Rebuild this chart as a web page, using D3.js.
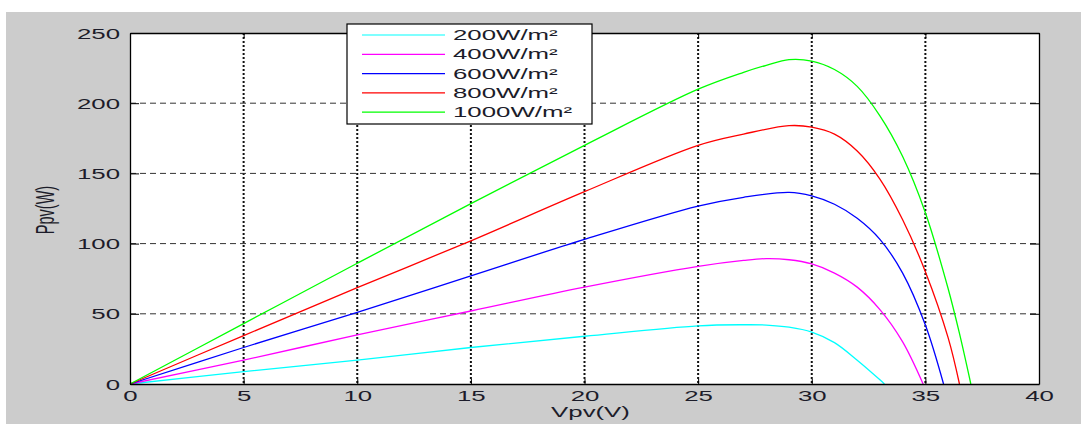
<!DOCTYPE html>
<html><head><meta charset="utf-8">
<script src="https://cdn.jsdelivr.net/npm/d3@7"></script>
<style>body{margin:0;background:#fff}svg{display:block}text{font-family:"Liberation Sans",Arial,sans-serif;fill:#1c1c2a}</style>
</head><body><svg id="c" width="1081" height="424"></svg>
<script>
// ---- data ----
const seriesNames = ["200W/m²","400W/m²","600W/m²","800W/m²","1000W/m²"];
const seriesColors = ["#00ffff","#ff00ff","#0000ff","#ff0000","#00ff00"];
const v200  = [0,5,10,15,20,25,27,28,29,30,31,32,33,33.2];
const p200  = [0,8.8,17,26,34,41.4,42.2,42,40.5,37,29.5,17,3,0];
const v400  = [0,5,10,15,20,25,27,28,29,30,31,32,33,34,34.9];
const p400  = [0,17,35,52,69,83.8,88,89.3,88.5,85.5,79,69,53,30,0];
const v600  = [0,5,10,15,20,25,27,29,30,31,32,33,34,35,35.8];
const p600  = [0,26,51,77,103,126.7,133,136.5,134,128,118,103,79,42,0];
const v800  = [0,5,10,15,20,25,27,29,30,31,32,33,34,35,36,36.5];
const p800  = [0,34.5,68.6,102,137,170,178,184,183,178,166,146,117,80,33,0];
const v1000 = [0,5,10,15,20,25,27,28,29,30,31,32,33,34,35,36,36.5,37];
const p1000 = [0,43,86,128.5,170,210,222,227,231,230,224,212,191,162,122,68,36,0];
const xTicks = [0,5,10,15,20,25,30,35,40];
const yTicks = [0,50,100,150,200,250];
const xLabel = "Vpv(V)", yLabel = "Ppv(W)";

const series = [[v200,p200],[v400,p400],[v600,p600],[v800,p800],[v1000,p1000]];
const SX = 1.78; // horizontal stretch of the original picture's text

const svg = d3.select("#c");
svg.append("rect").attr("x",6).attr("y",12).attr("width",1075).attr("height",412).attr("fill","#cccccc");

const L=130,R=1039,T=33,B=384;
const x = d3.scaleLinear().domain([0,40]).range([L,R]);
const y = d3.scaleLinear().domain([0,250]).range([B,T]);

svg.append("rect").attr("x",L).attr("y",T).attr("width",R-L).attr("height",B-T).attr("fill","#fff");

// grid
const g = svg.append("g");
g.selectAll("line.vx").data(xTicks.slice(1,-1)).join("line")
  .attr("x1",d=>x(d)).attr("x2",d=>x(d)).attr("y1",T).attr("y2",B)
  .attr("stroke","#111").attr("stroke-width",2).attr("stroke-dasharray","2,2");
g.selectAll("line.hy").data(yTicks.slice(1,-1)).join("line")
  .attr("x1",L).attr("x2",R).attr("y1",d=>y(d)).attr("y2",d=>y(d))
  .attr("stroke","#333").attr("stroke-width",1).attr("stroke-dasharray","6,4");

// curves
const line = d3.line().x(d=>x(d[0])).y(d=>y(d[1])).curve(d3.curveCatmullRom.alpha(0.5));
series.forEach((s,i)=>{
  const pts = s[0].map((v,j)=>[v,s[1][j]]);
  svg.append("path").attr("d",line(pts)).attr("fill","none")
    .attr("stroke",seriesColors[i]).attr("stroke-width",1.3);
});

// axes
function styleAxis(sel){ sel.select(".domain").attr("stroke","#000").attr("stroke-width",1.3);
  sel.selectAll(".tick line").attr("stroke","#000"); }
const ax = svg.append("g").attr("transform",`translate(0,${B})`)
  .call(d3.axisBottom(x).tickValues(xTicks).tickSizeInner(-5).tickSizeOuter(0).tickPadding(0));
styleAxis(ax);
ax.selectAll(".tick text").attr("x",0).attr("y",0).attr("dy",null)
  .attr("transform",`translate(0,17) scale(${SX},1)`).attr("font-size",14.5).attr("text-anchor","middle");
const axT = svg.append("g").attr("transform",`translate(0,${T})`)
  .call(d3.axisTop(x).tickValues(xTicks).tickSizeInner(-5).tickSizeOuter(0).tickFormat(""));
styleAxis(axT);
const ay = svg.append("g").attr("transform",`translate(${L},0)`)
  .call(d3.axisLeft(y).tickValues(yTicks).tickSizeInner(-9).tickSizeOuter(0));
styleAxis(ay);
ay.selectAll(".tick text").attr("x",0).attr("dy",null).attr("y",0)
  .attr("transform",`translate(-10,5) scale(${SX},1)`).attr("font-size",14.5).attr("text-anchor","end");
const ayR = svg.append("g").attr("transform",`translate(${R},0)`)
  .call(d3.axisRight(y).tickValues(yTicks).tickSizeInner(-9).tickSizeOuter(0).tickFormat(""));
styleAxis(ayR);

// labels
svg.append("text").attr("transform",`translate(${(L+R)/2+6},417) scale(${SX},1)`)
  .attr("text-anchor","middle").attr("font-size",14.5).text(xLabel);
svg.append("text").attr("transform",`translate(54,210) scale(${SX},1) rotate(-90)`)
  .attr("text-anchor","middle").attr("font-size",14.5).text(yLabel);

// legend
const lg = svg.append("g");
lg.append("rect").attr("x",347).attr("y",24).attr("width",245).attr("height",100)
  .attr("fill","#fff").attr("stroke","#000").attr("stroke-width",1.2);
seriesNames.forEach((n,i)=>{
  const yy = 35 + i*19.3;
  lg.append("line").attr("x1",362).attr("x2",445).attr("y1",yy).attr("y2",yy)
    .attr("stroke",seriesColors[i]).attr("stroke-width",1.2);
  lg.append("text").attr("transform",`translate(453,${yy+5}) scale(${SX},1)`)
    .attr("font-size",14.5).text(n);
});
</script></body></html>
